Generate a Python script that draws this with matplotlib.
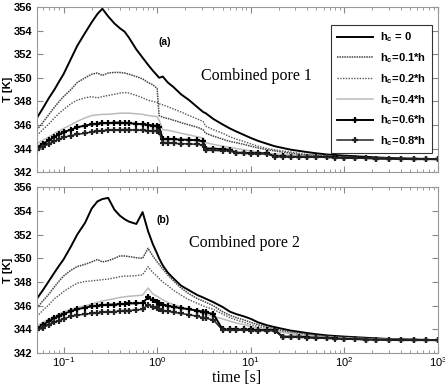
import matplotlib
matplotlib.use("Agg")
import matplotlib.pyplot as plt
from matplotlib.ticker import LogFormatterMathtext, MultipleLocator

plt.rcParams['font.family'] = ['Liberation Sans', 'DejaVu Sans']
plt.rcParams['mathtext.fontset'] = 'custom'
plt.rcParams['mathtext.rm'] = 'Liberation Sans:bold'
plt.rcParams['mathtext.it'] = 'Liberation Sans:bold'
plt.rcParams['mathtext.bf'] = 'Liberation Sans:bold'

# time grid [s] shared by all curves
t = [0.052, 0.06, 0.07, 0.08, 0.09, 0.1, 0.12, 0.14,
     0.17, 0.2, 0.23, 0.26, 0.3, 0.35, 0.4, 0.45,
     0.5, 0.6, 0.7, 0.8, 0.9, 1.0, 1.05, 1.15,
     1.3, 1.5, 1.8, 2.2, 2.7, 3.1, 3.3, 4,
     5, 6, 7, 8.5, 10, 12, 15, 18,
     22, 27, 33, 40, 50, 65, 80, 100,
     130, 170, 220, 300, 400, 550, 750, 1000]

labels = ['h$_c$ = 0', 'h$_c$=0.1*h', 'h$_c$=0.2*h',
          'h$_c$=0.4*h', 'h$_c$=0.6*h', 'h$_c$=0.8*h']

# (a) combined pore 1
a_h0 = [346.6, 347.4, 348.3, 349.0, 349.7, 350.3, 351.6, 352.7,
        353.8, 354.7, 355.4, 355.85, 355.2, 354.6, 354.2, 353.9,
        353.4, 352.4, 351.7, 351.1, 350.6, 350.2, 350.0, 350.1,
        349.6, 349.2, 348.6, 348.1, 347.5, 347.1, 347.0, 346.5,
        346.05, 345.7, 345.45, 345.15, 344.9, 344.65, 344.4, 344.2,
        344.05, 343.9, 343.8, 343.7, 343.6, 343.5, 343.45, 343.4,
        343.35, 343.3, 343.25, 343.2, 343.17, 343.15, 343.12, 343.1]
a_h01 = [345.6, 346.2, 346.9, 347.5, 348.0, 348.4, 349.0, 349.6,
         350.0, 350.3, 350.4, 350.2, 350.4, 350.45, 350.45, 350.4,
         350.3, 350.1, 349.9, 349.6, 349.4, 349.1, 346.8, 346.65,
         346.55, 346.4, 346.2, 346.0, 345.8, 345.6, 345.3, 345.05,
         344.8, 344.6, 344.5, 344.35, 344.2, 344.05, 343.9, 343.8,
         343.7, 343.6, 343.5, 343.45, 343.4, 343.35, 343.3, 343.28,
         343.25, 343.22, 343.2, 343.17, 343.15, 343.13, 343.11, 343.1]
a_h02 = [345.1, 345.6, 346.1, 346.6, 347.0, 347.3, 347.8, 348.1,
         348.3, 348.4, 348.3, 348.4, 348.5, 348.6, 348.7, 348.75,
         348.7, 348.5, 348.3, 348.1, 348.0, 347.9, 347.8, 347.7,
         347.55, 347.35, 347.1, 346.8, 346.5, 346.3, 345.9, 345.6,
         345.3, 345.0, 344.8, 344.6, 344.4, 344.2, 344.0, 343.9,
         343.8, 343.7, 343.6, 343.5, 343.45, 343.4, 343.35, 343.3,
         343.27, 343.24, 343.21, 343.18, 343.15, 343.13, 343.11, 343.1]
a_h04 = [344.4, 344.7, 345.0, 345.3, 345.5, 345.7, 346.0, 346.3,
         346.6, 346.8, 346.85, 346.9, 346.9, 346.95, 347.0, 347.0,
         347.0, 346.95, 346.9, 346.8, 346.75, 346.7, 346.4, 345.6,
         345.55, 345.45, 345.3, 345.15, 345.0, 344.9, 344.5, 344.35,
         344.2, 344.1, 344.0, 343.9, 343.8, 343.7, 343.6, 343.55,
         343.5, 343.45, 343.4, 343.35, 343.3, 343.28, 343.25, 343.22,
         343.2, 343.18, 343.16, 343.14, 343.13, 343.12, 343.11, 343.1]
a_h06 = [344.1, 344.4, 344.7, 345.0, 345.2, 345.4, 345.6, 345.8,
         345.95, 346.05, 346.1, 346.15, 346.15, 346.2, 346.2, 346.15,
         346.15, 346.1, 346.05, 346.0, 345.95, 345.9, 345.85, 344.8,
         344.8, 344.8, 344.75, 344.75, 344.7, 344.6, 344.0, 344.0,
         343.95, 343.9, 343.65, 343.65, 343.6, 343.6, 343.6, 343.35,
         343.35, 343.3, 343.3, 343.3, 343.3, 343.3, 343.25, 343.2,
         343.2, 343.2, 343.15, 343.15, 343.12, 343.1, 343.1, 343.1]
a_h08 = [343.9, 344.15, 344.4, 344.6, 344.8, 344.95, 345.1, 345.2,
         345.3, 345.4, 345.45, 345.5, 345.55, 345.55, 345.6, 345.6,
         345.6, 345.55, 345.55, 345.5, 345.5, 345.45, 345.4, 344.45,
         344.45, 344.45, 344.4, 344.4, 344.35, 344.3, 343.85, 343.85,
         343.8, 343.8, 343.6, 343.6, 343.55, 343.55, 343.55, 343.3,
         343.3, 343.28, 343.28, 343.28, 343.28, 343.25, 343.22, 343.2,
         343.18, 343.18, 343.15, 343.13, 343.11, 343.1, 343.1, 343.1]

# (b) combined pore 2
b_h0 = [346.6, 347.3, 348.1, 348.8, 349.4, 349.9, 351.0, 352.0,
        353.0, 354.2, 354.8, 355.0, 355.1, 354.1, 353.6, 353.3,
        353.1, 352.9, 353.9, 352.3, 351.2, 350.4, 350.0, 349.4,
        348.8, 348.3, 347.7, 347.3, 346.9, 346.7, 346.6, 346.3,
        345.9, 345.5, 345.3, 345.1, 344.9, 344.6, 344.35, 344.2,
        344.05, 343.9, 343.8, 343.7, 343.6, 343.5, 343.45, 343.4,
        343.35, 343.3, 343.25, 343.2, 343.17, 343.15, 343.12, 343.1]
b_h01 = [345.8, 346.4, 347.0, 347.6, 348.1, 348.5, 349.0, 349.3,
         349.5, 349.7, 349.9, 349.7, 349.8, 350.0, 350.2, 350.2,
         350.15, 350.05, 350.0, 350.85, 350.2, 349.7, 349.5, 349.1,
         348.6, 348.1, 347.5, 347.0, 346.6, 346.4, 346.3, 346.0,
         345.5, 345.2, 345.0, 344.8, 344.6, 344.4, 344.2, 344.05,
         343.9, 343.8, 343.7, 343.6, 343.5, 343.45, 343.4, 343.35,
         343.3, 343.25, 343.22, 343.19, 343.16, 343.14, 343.12, 343.1]
b_h02 = [345.1, 345.6, 346.1, 346.6, 346.9, 347.2, 347.6, 347.9,
         348.05, 348.1, 348.15, 348.2, 348.25, 348.35, 348.45, 348.5,
         348.5, 348.55, 348.6, 349.3, 348.8, 348.5, 348.3, 348.0,
         347.7, 347.3, 346.9, 346.5, 346.2, 346.0, 345.9, 345.7,
         345.3, 345.0, 344.8, 344.6, 344.4, 344.25, 344.05, 343.95,
         343.8, 343.7, 343.6, 343.55, 343.45, 343.4, 343.35, 343.3,
         343.27, 343.23, 343.2, 343.17, 343.15, 343.13, 343.11, 343.1]
b_h04 = [344.3, 344.6, 344.9, 345.1, 345.3, 345.5, 345.7, 345.85,
         346.0, 346.15, 346.3, 346.4, 346.5, 346.6, 346.7, 346.75,
         346.8, 346.85, 346.9, 347.5, 347.0, 346.8, 346.7, 346.5,
         346.3, 346.1, 345.9, 345.7, 345.5, 345.35, 345.3, 345.1,
         344.9, 344.7, 344.55, 344.4, 344.25, 344.1, 343.95, 343.85,
         343.75, 343.65, 343.55, 343.5, 343.42, 343.37, 343.33, 343.28,
         343.25, 343.22, 343.19, 343.16, 343.14, 343.12, 343.11, 343.1]
b_h06 = [344.1, 344.4, 344.7, 344.95, 345.15, 345.3, 345.55, 345.7,
         345.85, 345.95, 346.0, 346.05, 346.1, 346.1, 346.15, 346.15,
         346.2, 346.2, 346.25, 346.7, 346.45, 346.3, 346.2, 346.1,
         346.0, 345.9, 345.8, 345.7, 345.6, 345.5, 345.45, 345.3,
         344.0, 344.0, 344.0, 344.0, 344.0, 343.95, 343.95, 343.95,
         343.4, 343.4, 343.4, 343.35, 343.3, 343.3, 343.25, 343.2,
         343.2, 343.15, 343.15, 343.12, 343.1, 343.1, 343.1, 343.1]
b_h08 = [343.95, 344.15, 344.4, 344.6, 344.75, 344.9, 345.1, 345.2,
         345.3, 345.35, 345.4, 345.45, 345.5, 345.5, 345.55, 345.6,
         345.6, 345.65, 345.7, 346.1, 345.9, 345.8, 345.7, 345.6,
         345.55, 345.45, 345.35, 345.25, 345.1, 345.0, 344.95, 344.8,
         343.95, 343.95, 343.95, 343.95, 343.9, 343.9, 343.9, 343.9,
         343.35, 343.35, 343.35, 343.3, 343.28, 343.25, 343.22, 343.2,
         343.18, 343.15, 343.13, 343.11, 343.1, 343.1, 343.1, 343.1]

# line styles for the six h_c cases
styles = [
    dict(color='black', lw=1.4, ls='-'),
    dict(color='#444444', lw=1.1, ls=(0, (1, 0.6))),
    dict(color='#555555', lw=1.0, ls=(0, (1, 1))),
    dict(color='#bbbbbb', lw=1.1, ls='-'),
    dict(color='black', lw=1.4, ls='-', marker='+', ms=4.5, mew=1.6),
    dict(color='#222222', lw=1.1, ls='-', marker='+', ms=4.5, mew=1.6),
]

fig = plt.figure(figsize=(4.45, 3.86), dpi=100)
ax_a = fig.add_axes([0.083, 0.554, 0.901, 0.428])
ax_b = fig.add_axes([0.083, 0.085, 0.901, 0.430])

panels = [(ax_a, [a_h0, a_h01, a_h02, a_h04, a_h06, a_h08], '(a)', 'Combined pore 1', (0.32, 0.79), (0.41, 0.58)),
          (ax_b, [b_h0, b_h01, b_h02, b_h04, b_h06, b_h08], '(b)', 'Combined pore 2', (0.315, 0.80), (0.38, 0.665))]

for ax, series, tag, name, tag_xy, name_xy in panels:
    for y, st, lab in zip(series, styles, labels):
        ax.plot(t, y, label=lab, **st)
    ax.set_xscale('log')
    ax.set_xlim(0.052, 1000)
    ax.set_ylim(342, 356)
    ax.yaxis.set_major_locator(MultipleLocator(2))
    ax.tick_params(which='both', direction='in', top=True, right=True,
                   color='#888888', labelsize=8, pad=3)
    ax.tick_params(axis='x', pad=1.5)
    ax.tick_params(which='major', length=4)
    ax.tick_params(which='minor', length=2)
    for sp in ax.spines.values():
        sp.set_color('#999999')
        sp.set_linewidth(0.8)
    for lbl in ax.get_yticklabels():
        lbl.set_fontweight('bold')
    ax.set_ylabel('T [K]', fontsize=8, fontweight='bold', labelpad=1)
    ax.text(tag_xy[0], tag_xy[1], tag, transform=ax.transAxes, fontsize=7.5,
            fontweight='bold', ha='center', va='center')
    ax.text(name_xy[0], name_xy[1], name, transform=ax.transAxes, fontsize=11.5,
            family='Liberation Serif', ha='left', va='center')

ax_a.tick_params(labelbottom=False)
ax_b.xaxis.set_major_formatter(LogFormatterMathtext())
fig.text(0.532, 0.0, 'time [s]', fontsize=11.5, family='Liberation Serif',
         ha='center', va='bottom')

leg = ax_a.legend(loc='upper right', bbox_to_anchor=(0.985, 0.89),
                  prop={'weight': 'bold', 'size': 8}, borderaxespad=0,
                  frameon=True, fancybox=False, edgecolor='black',
                  handlelength=3.2, labelspacing=0.62, borderpad=0.5,
                  handletextpad=0.7)
leg.get_frame().set_linewidth(0.8)

fig.savefig('out.png', dpi=100)
